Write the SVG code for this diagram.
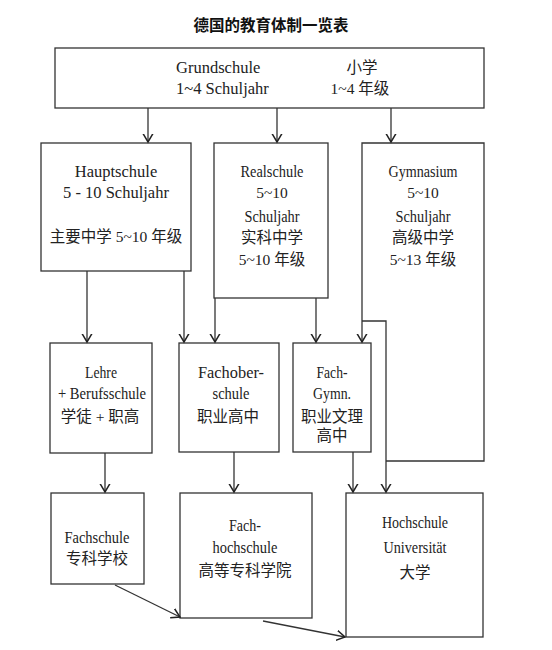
<svg xmlns="http://www.w3.org/2000/svg" width="552" height="650" viewBox="0 0 552 650">
<style>
.box{fill:#fff;stroke:#333;stroke-width:1.3}
.t{font-family:'Liberation Serif','Times New Roman',Tinos,'DejaVu Serif','Noto Sans CJK SC',serif;font-size:16.5px;fill:#222;text-anchor:middle}
.m{font-size:16px}
.c{font-family:'Liberation Serif','Times New Roman',Tinos,'DejaVu Serif','Noto Sans CJK SC',serif;font-size:15.5px;fill:#222;text-anchor:middle}
.s{text-anchor:start}
.title{font-family:'Noto Sans CJK SC',sans-serif;font-size:15.5px;font-weight:bold;fill:#111;text-anchor:middle}
.ln{fill:none;stroke:#333;stroke-width:1.3}
</style>
<defs>
<marker id="ah" markerUnits="userSpaceOnUse" markerWidth="10" markerHeight="12" viewBox="0 0 10 12" refX="8.5" refY="6" orient="auto">
<path d="M0,1 L8.5,6 L0,11" fill="none" stroke="#222" stroke-width="1.5"/>
</marker>
</defs>
<rect width="552" height="650" fill="#fff"/>
<text class="title" x="271" y="31">德国的教育体制一览表</text>

<g id="grundschule">
<rect class="box" x="55" y="48" width="429" height="60"/>
<text class="t s" x="176" y="73">Grundschule</text>
<text class="t s" x="176" y="94">1~4 Schuljahr</text>
<text class="c" x="362" y="73">小学</text>
<text class="c" x="360" y="94">1~4 年级</text>
</g>

<g id="hauptschule">
<rect class="box" x="41" y="143" width="150" height="128"/>
<text class="t" x="116" y="177">Hauptschule</text>
<text class="t" x="116" y="198">5 - 10 Schuljahr</text>
<text class="c" x="116" y="242">主要中学 5~10 年级</text>
</g>

<g id="realschule">
<rect class="box" x="214" y="143" width="114" height="155"/>
<text class="t m" x="272" y="177" textLength="63" lengthAdjust="spacingAndGlyphs">Realschule</text>
<text class="c" x="272" y="198">5~10</text>
<text class="t m" x="272" y="222" textLength="55" lengthAdjust="spacingAndGlyphs">Schuljahr</text>
<text class="c" x="272" y="243">实科中学</text>
<text class="c" x="272" y="265">5~10 年级</text>
</g>

<g id="gymnasium">
<path class="ln" d="M362,321 V143 H484 V461 H386"/>
<text class="t m" x="423" y="177" textLength="69" lengthAdjust="spacingAndGlyphs">Gymnasium</text>
<text class="c" x="423" y="198">5~10</text>
<text class="t m" x="423" y="222" textLength="55" lengthAdjust="spacingAndGlyphs">Schuljahr</text>
<text class="c" x="423" y="243">高级中学</text>
<text class="c" x="423" y="265">5~13 年级</text>
</g>

<g id="lehre">
<rect class="box" x="50" y="343" width="102" height="110"/>
<text class="t m" x="101" y="378" textLength="32" lengthAdjust="spacingAndGlyphs">Lehre</text>
<text class="t m" x="102" y="399" textLength="88" lengthAdjust="spacingAndGlyphs">+ Berufsschule</text>
<text class="c" x="100" y="422">学徒 + 职高</text>
</g>

<g id="fachoberschule">
<rect class="box" x="179" y="343" width="100" height="109"/>
<text class="t m" x="231" y="378" textLength="66" lengthAdjust="spacingAndGlyphs">Fachober-</text>
<text class="t m" x="231" y="399" textLength="37" lengthAdjust="spacingAndGlyphs">schule</text>
<text class="c" x="228" y="422">职业高中</text>
</g>

<g id="fachgymn">
<rect class="box" x="293" y="343" width="78" height="109"/>
<text class="t m" x="332" y="378" textLength="31" lengthAdjust="spacingAndGlyphs">Fach-</text>
<text class="t m" x="332" y="399" textLength="38" lengthAdjust="spacingAndGlyphs">Gymn.</text>
<text class="c" x="332" y="422">职业文理</text>
<text class="c" x="332" y="441">高中</text>
</g>

<g id="fachschule">
<rect class="box" x="51" y="493" width="93" height="91"/>
<text class="t m" x="97" y="543" textLength="65" lengthAdjust="spacingAndGlyphs">Fachschule</text>
<text class="c" x="97" y="564">专科学校</text>
</g>

<g id="fachhochschule">
<rect class="box" x="180" y="493" width="132" height="125"/>
<text class="t m" x="245" y="531" textLength="32" lengthAdjust="spacingAndGlyphs">Fach-</text>
<text class="t m" x="245" y="553" textLength="65" lengthAdjust="spacingAndGlyphs">hochschule</text>
<text class="c" x="245" y="576">高等专科学院</text>
</g>

<g id="hochschule">
<rect class="box" x="346" y="493" width="137" height="144"/>
<text class="t m" x="415" y="528" textLength="66" lengthAdjust="spacingAndGlyphs">Hochschule</text>
<text class="t m" x="415" y="553" textLength="63" lengthAdjust="spacingAndGlyphs">Universität</text>
<text class="c" x="415" y="578">大学</text>
</g>

<g id="connectors">
<path class="ln" marker-end="url(#ah)" d="M148,108 V142"/>
<path class="ln" marker-end="url(#ah)" d="M277,108 V142"/>
<path class="ln" marker-end="url(#ah)" d="M391,108 V142"/>
<path class="ln" marker-end="url(#ah)" d="M87,271 V342"/>
<path class="ln" marker-end="url(#ah)" d="M184,271 V342"/>
<path class="ln" marker-end="url(#ah)" d="M215,298 V342"/>
<path class="ln" marker-end="url(#ah)" d="M316,298 V342"/>
<path class="ln" marker-end="url(#ah)" d="M362,321 V342"/>
<path class="ln" marker-end="url(#ah)" d="M362,321 H386 V492"/>
<path class="ln" marker-end="url(#ah)" d="M105,453 V492"/>
<path class="ln" marker-end="url(#ah)" d="M234,452 V492"/>
<path class="ln" marker-end="url(#ah)" d="M353,452 V492"/>
<path class="ln" marker-end="url(#ah)" d="M115,585 L180,617"/>
<path class="ln" marker-end="url(#ah)" d="M263,621 L345,637"/>
</g>
</svg>
